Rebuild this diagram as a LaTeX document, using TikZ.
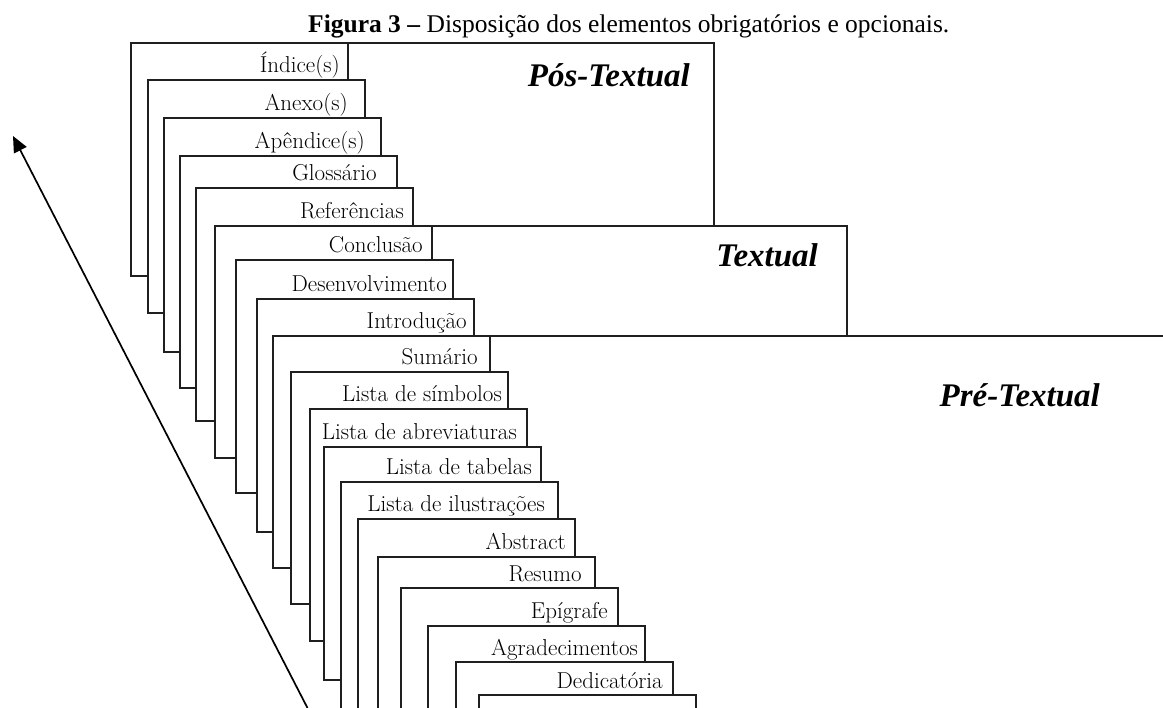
\documentclass[tikz,border=0pt]{standalone}
\usepackage{fontspec}
\newfontfamily\tnr{Liberation Serif}
\usetikzlibrary{arrows.meta}
\tikzset{
  ln/.style={line width=1.7pt, draw=black!88, line join=miter},
  lab/.style={inner sep=0pt, anchor=base east, font=\fontsize{23}{26}\selectfont},
  sect/.style={inner sep=0pt, anchor=base east, font=\tnr\bfseries\itshape\fontsize{33}{36}\selectfont},
  ttl/.style={inner sep=0pt, anchor=base west, font=\tnr\fontsize{25.5}{28}\selectfont},
  arr/.style={line width=1.7pt, draw=black, -{Triangle[length=16pt,width=14pt]}}
}
\begin{document}
\begin{tikzpicture}[x=1pt,y=-1pt]
\useasboundingbox (0,0) rectangle (1163,708);
\fill[white] (0,0) rectangle (1163,708);
\begin{scope}
\clip (0,0) rectangle (1163,708);
% layers: L / T / next T / bottom / next L / label / label right end
\foreach \L/\T/\Tn/\B/\Ln/\lab/\rx [count=\i] in {
  131/43/80/276/148/{Índice(s)}/340,
  148/80/118/313/164/{Anexo(s)}/348,
  164/118/156/352/180/{Apêndice(s)}/365,
  180/156/188/388/196/{Glossário}/377,
  196/188/226/421/215/{Referências}/404,
  215/226/260/458/236/{Conclusão}/423,
  236/260/299/493/257/{Desenvolvimento}/447,
  257/299/336/532/273/{Introdução}/467,
  273/336/372/568/291/{Sumário}/478,
  291/372/409/604/310/{Lista de símbolos}/502,
  310/409/447/641/324/{Lista de abreviaturas}/517,
  324/447/482/680/341/{Lista de tabelas}/532,
  341/482/519/730/341/{Lista de ilustrações}/545,
  358/519/557/730/358/{Abstract}/566,
  378/557/588/730/378/{Resumo}/582,
  401/588/626/730/401/{Epígrafe}/608,
  428/626/662/730/428/{Agradecimentos}/638,
  456/662/695/730/456/{Dedicatória}/663,
  479/695/730/730/479/{}/690}
{
  \draw[ln] (\Ln,\B) -- (\L,\B) -- (\L,\T) -- (\L+217,\T) -- (\L+217,\Tn);
  \node[lab] (lab\i) at (\rx,\Tn-7) {\lab};
}
% section extensions
\draw[ln] (348,43) -- (714,43) -- (714,226);
\draw[ln] (431,226) -- (847,226) -- (847,336);
\draw[ln] (490,336) -- (1175,336);
\end{scope}
\node[sect] (pos) at (690,87) {Pós-Textual};
\node[sect] (txt) at (818,267) {Textual};
\node[sect] (pre) at (1100,407) {Pré-Textual};
\node[ttl] (title) at (308,33) {\textbf{Figura 3 –} Disposição dos elementos obrigatórios e opcionais.};
\coordinate (a0) at (307.5,708);
\coordinate (a1) at (13,136);
\draw[arr] (a0) -- (a1);
\end{tikzpicture}
\end{document}
